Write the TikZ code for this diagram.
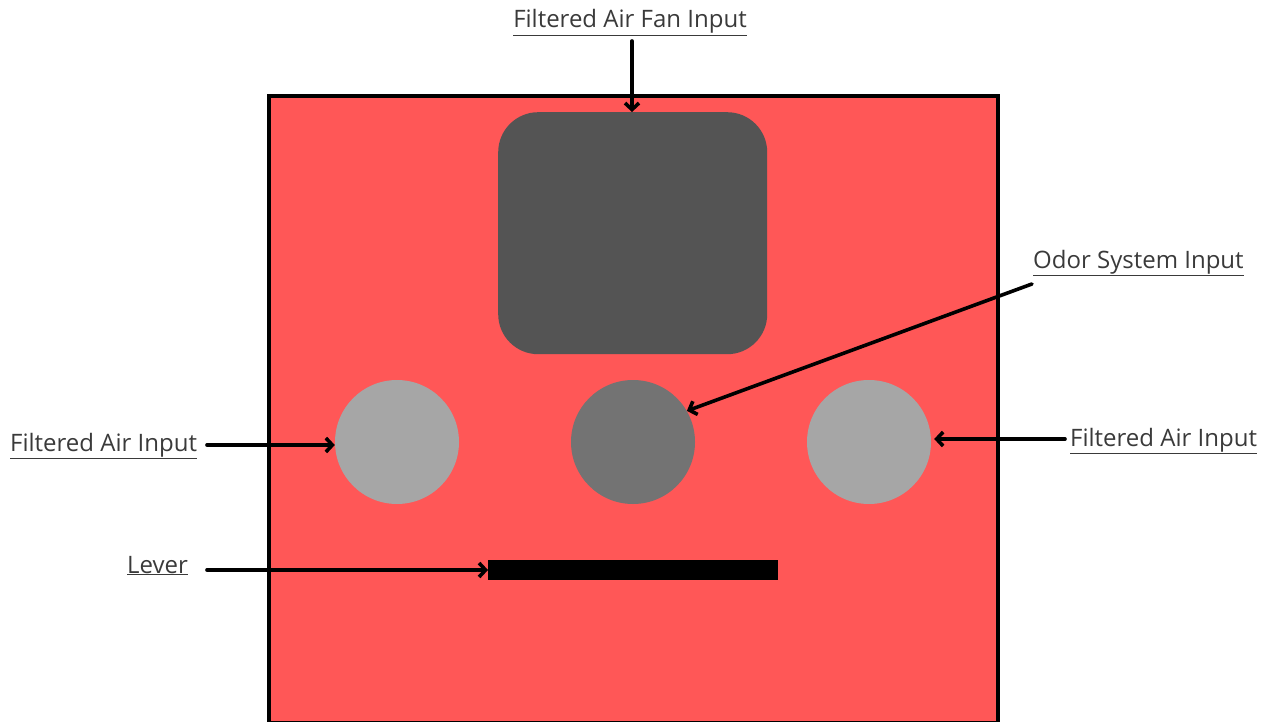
\documentclass[tikz,border=0pt]{standalone}
\usepackage{fontspec}
\setmainfont{Open Sans}
\usetikzlibrary{arrows.meta}
\definecolor{boxred}{HTML}{FF5757}
\definecolor{fangray}{HTML}{545454}
\definecolor{odorgray}{HTML}{737373}
\definecolor{airgray}{HTML}{A6A6A6}
\definecolor{txt}{HTML}{3A3A3A}
\begin{document}
\begin{tikzpicture}[x=1pt,y=-1pt,
  lbl/.style={inner sep=0pt, text=txt, font=\fontsize{24}{28}\selectfont},
  conn/.style={line width=3.6pt, line cap=round, line join=round, -{Straight Barb[length=6.5pt,width=14pt,line width=3.6pt]}},
  port/.style={circle, minimum size=124pt, inner sep=0pt}
]
\useasboundingbox (0,0) rectangle (1279,722);
% housing
\node[draw=black, line width=4pt, fill=boxred, minimum width=729pt, minimum height=627pt, inner sep=0pt, outer sep=0pt, anchor=north west] (housing) at (269,96) {};
% fan
\node[fill=fangray, rounded corners=40pt, minimum width=269pt, minimum height=242pt, inner sep=0pt, anchor=north west] (fan) at (498,112) {};
% ports
\node[port, fill=airgray] (leftair) at (397,442) {};
\node[port, fill=odorgray] (odor) at (633,442) {};
\node[port, fill=airgray] (rightair) at (869,442) {};
% lever
\node[fill=black, minimum width=290pt, minimum height=20pt, inner sep=0pt, anchor=west] (lever) at (488,570) {};
% labels
\node[lbl, anchor=base] (fanlbl) at (630,28) {\underline{Filtered Air Fan Input}};
\node[lbl, anchor=base west] (leftlbl) at (10,451) {\underline{Filtered Air Input}};
\node[lbl, anchor=base west] (odorlbl) at (1033,268) {\underline{Odor System Input}};
\node[lbl, anchor=base west] (rightlbl) at (1070,446) {\underline{Filtered Air Input}};
\node[lbl, anchor=base west] (leverlbl) at (127,573) {\underline{Lever}};
% connectors
\coordinate (fanstart) at (632,41);
\draw[conn] (fanstart) -- (fan.north -| fanstart);
\coordinate (ls) at (207,445);
\draw[conn] (ls) -- (leftair.west |- ls);
\coordinate (rs) at (1065,439);
\draw[conn] (rs) -- ([xshift=3pt]rightair.east |- rs);
\draw[conn] (odorlbl.south west) ++(-1,8) coordinate (os) (os) -- (odor.30);
\coordinate (vs) at (207,570);
\draw[conn] (vs) -- (lever.west);
\end{tikzpicture}
\end{document}
